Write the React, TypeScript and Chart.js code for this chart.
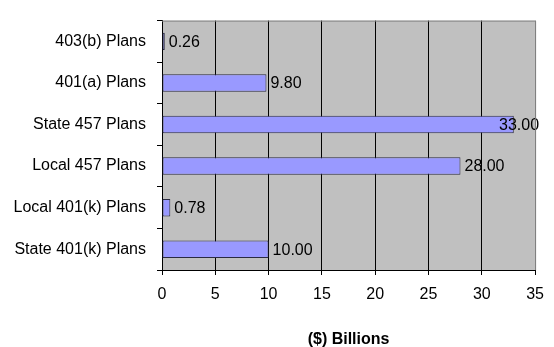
import React, { useEffect, useRef } from "react";
import { Chart, registerables } from "chart.js";

Chart.register(...registerables);

const categories = [
  "403(b) Plans",
  "401(a) Plans",
  "State 457 Plans",
  "Local 457 Plans",
  "Local 401(k) Plans",
  "State 401(k) Plans",
];
const values = [0.26, 9.8, 33.0, 28.0, 0.78, 10.0];
const xTicks = [0, 5, 10, 15, 20, 25, 30, 35];
const axisTitle = "($) Billions";

const FONT = "Liberation Sans, Arial, sans-serif";

const bgPlugin = {
  id: "plotBg",
  beforeDraw(chart: any) {
    const { ctx, chartArea } = chart;
    ctx.save();
    ctx.fillStyle = "#C0C0C0";
    ctx.fillRect(chartArea.left, chartArea.top, chartArea.right - chartArea.left, chartArea.bottom - chartArea.top);
    ctx.restore();
  },
  afterDraw(chart: any) {
    const { ctx, chartArea } = chart;
    ctx.save();
    ctx.strokeStyle = "#808080";
    ctx.lineWidth = 1;
    ctx.beginPath();
    ctx.moveTo(chartArea.left, chartArea.top + 0.5);
    ctx.lineTo(chartArea.right + 0.5, chartArea.top + 0.5);
    ctx.lineTo(chartArea.right + 0.5, chartArea.bottom);
    ctx.stroke();
    ctx.restore();
  },
};

const labelPlugin = {
  id: "valueLabels",
  afterDatasetsDraw(chart: any) {
    const { ctx, chartArea } = chart;
    const meta = chart.getDatasetMeta(0);
    ctx.save();
    ctx.font = "16px " + FONT;
    ctx.fillStyle = "#000";
    ctx.textBaseline = "middle";
    ctx.textAlign = "left";
    meta.data.forEach((bar: any, i: number) => {
      const text = values[i].toFixed(2);
      const w = ctx.measureText(text).width;
      let x = bar.x + 4;
      const maxX = chartArea.right + 4 - w;
      if (x > maxX) x = maxX;
      ctx.fillText(text, x, bar.y + 1);
    });
    ctx.restore();
  },
};

export default function App() {
  const ref = useRef<HTMLCanvasElement>(null);
  useEffect(() => {
    document.body.style.margin = "0";
    const chart = new Chart(ref.current!, {
      type: "bar",
      data: {
        labels: categories,
        datasets: [
          {
            data: values,
            backgroundColor: "#9999FF",
            borderColor: "#2A2A40",
            borderWidth: 1,
            borderSkipped: false,
            categoryPercentage: 1,
            barPercentage: 0.42,
          },
        ],
      },
      options: {
        indexAxis: "y",
        animation: false,
        responsive: false,
        devicePixelRatio: 1,
        layout: { padding: { top: 8, right: 15, left: 0, bottom: 0 } },
        plugins: { legend: { display: false }, tooltip: { enabled: false } },
        scales: {
          x: {
            min: 0,
            max: 35,
            afterBuildTicks(scale: any) {
              scale.ticks = xTicks.map((v) => ({ value: v }));
            },
            afterFit(scale: any) {
              scale.height = 77;
            },
            grid: {
              color: (c: any) => (c.tick && c.tick.value === 35 ? "#808080" : "#000"),
              tickColor: "#000",
              tickLength: 5,
              lineWidth: 1,
            },
            border: { color: "#000", width: 1 },
            ticks: { color: "#000", font: { family: FONT, size: 16 }, padding: 10, maxRotation: 0 },
            title: {
              display: true,
              text: axisTitle,
              color: "#000",
              font: { family: FONT, size: 16, weight: "bold" },
              padding: { top: 0, bottom: -2 },
            },
          },
          y: {
            afterFit(scale: any) {
              scale.width = 162;
            },
            grid: {
              drawOnChartArea: false,
              drawTicks: true,
              tickLength: 5,
              color: "#000",
              offset: true,
            },
            border: { color: "#000", width: 1 },
            ticks: { color: "#000", font: { family: FONT, size: 16 }, padding: 11 },
          },
        },
      },
      plugins: [bgPlugin, labelPlugin],
    } as any);
    return () => chart.destroy();
  }, []);
  return (
    <div style={{ position: "absolute", left: 0, top: 0, width: 554, height: 347 }}>
      <canvas ref={ref} width={554} height={347} style={{ width: 554, height: 347 }} />
    </div>
  );
}
